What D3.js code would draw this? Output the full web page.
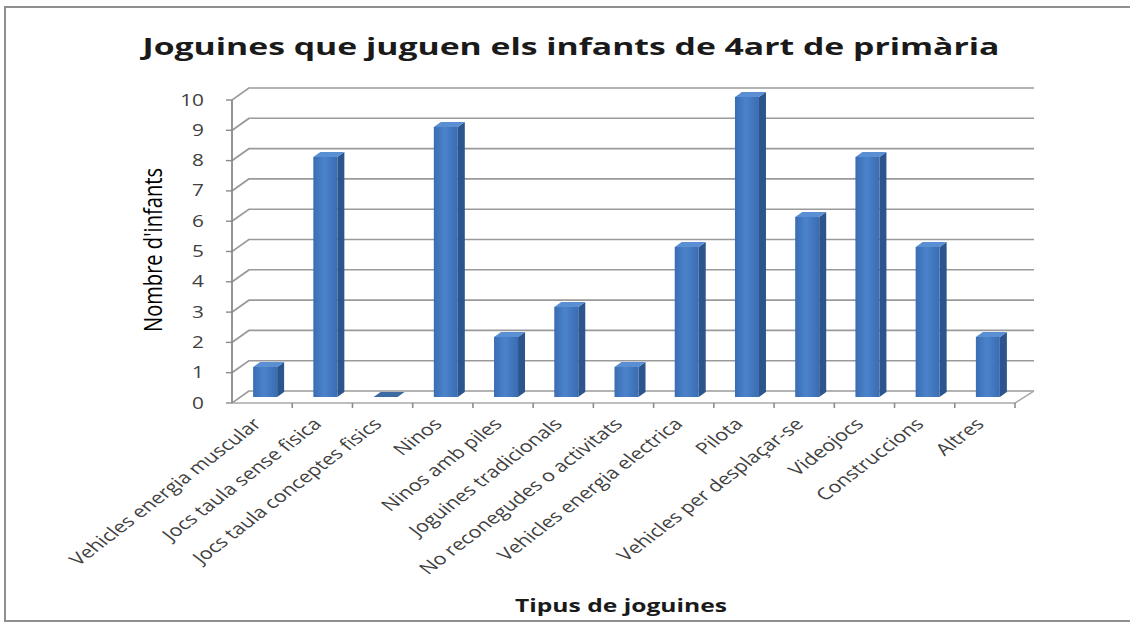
<!DOCTYPE html>
<html>
<head>
<meta charset="utf-8">
<script src="https://cdn.jsdelivr.net/npm/d3@7"></script>
<style>
  html, body { margin: 0; padding: 0; background: #fff; }
  svg { display: block; }
</style>
</head>
<body>
<svg id="chart" width="1130" height="624"></svg>
<script>
// ---- data ----
const categories = [
  "Vehicles energia muscular",
  "Jocs taula sense fisica",
  "Jocs taula conceptes fisics",
  "Ninos",
  "Ninos amb piles",
  "Joguines tradicionals",
  "No reconegudes o activitats",
  "Vehicles energia electrica",
  "Pilota",
  "Vehicles per desplaçar-se",
  "Videojocs",
  "Construccions",
  "Altres"
];
const values = [1, 8, 0, 9, 2, 3, 1, 5, 10, 6, 8, 5, 2];
const yTicks = [0, 1, 2, 3, 4, 5, 6, 7, 8, 9, 10];
const titleText = "Joguines que juguen els infants de 4art de primària";
const xTitleText = "Tipus de joguines";
const yTitleText = "Nombre d'infants";

// ---- layout (the reference is horizontally stretched; draw in a scaled group) ----
const sx = 1.3;
const svg = d3.select("#chart");

// frame
svg.append("rect").attr("x", 5).attr("y", 7).attr("width", 1135).attr("height", 614)
  .attr("fill", "#fff").attr("stroke", "#8f8f8f").attr("stroke-width", 2);

const g = svg.append("g").attr("transform", `scale(${sx},1)`);
const X = px => px / sx;  // final pixel x -> inner x

const front0 = 232, front1 = 1015;
const depthX = 17, depthY = -12;
const backRight = 1034;

const x = d3.scaleBand().domain(categories).range([X(front0), X(front1)]).paddingInner(0).paddingOuter(0);
const yFront = d3.scaleLinear().domain([0, 10]).range([403, 100]);
const yBar = d3.scaleLinear().domain([0, 10]).range([397, 97]);

const gridColor = "#9a9a9a";

// back wall + side wall gridlines
g.append("g").selectAll("path").data(yTicks).join("path")
  .attr("d", v => {
    const yf = yFront(v), yb = yf + depthY;
    return `M${X(front0)},${yf} L${X(front0 + depthX)},${yb} L${X(backRight)},${yb}`;
  })
  .attr("fill", "none").attr("stroke", gridColor).attr("stroke-width", 1.6);

// floor edges
const y0 = yFront(0);
g.append("path")
  .attr("d", `M${X(front0)},${y0} L${X(front1)},${y0} L${X(backRight)},${y0 + depthY}`)
  .attr("fill", "none").attr("stroke", "#a8a8a8").attr("stroke-width", 1.4);

// y axis line + ticks
g.append("line").attr("x1", X(front0)).attr("x2", X(front0))
  .attr("y1", yFront(10)).attr("y2", y0).attr("stroke", "#8a8a8a").attr("stroke-width", 1.4);
g.append("g").selectAll("line").data(yTicks).join("line")
  .attr("x1", X(front0 - 6)).attr("x2", X(front0))
  .attr("y1", v => yFront(v)).attr("y2", v => yFront(v))
  .attr("stroke", "#8a8a8a").attr("stroke-width", 1.4);

// y tick labels
g.append("g").selectAll("text").data(yTicks).join("text")
  .attr("x", X(204)).attr("y", v => yFront(v)).attr("dy", "0.35em")
  .attr("text-anchor", "end")
  .attr("font-family", "Open Sans, sans-serif").attr("font-size", 16)
  .attr("fill", "#404040").text(d => d);

// x ticks at category boundaries
const bounds = categories.map(c => x(c) + x.bandwidth());
g.append("g").selectAll("line").data(bounds).join("line")
  .attr("x1", d => d).attr("x2", d => d).attr("y1", y0).attr("y2", y0 + 5)
  .attr("stroke", "#8a8a8a").attr("stroke-width", 1.2);

// gradient for bar front
const defs = svg.append("defs");
const grad = defs.append("linearGradient").attr("id", "frontGrad")
  .attr("x1", "0%").attr("x2", "100%").attr("y1", "0%").attr("y2", "0%");
grad.append("stop").attr("offset", "0%").attr("stop-color", "#3a6db3");
grad.append("stop").attr("offset", "45%").attr("stop-color", "#4b83cb");
grad.append("stop").attr("offset", "100%").attr("stop-color", "#3a6cb1");

// bars (3D)
const barW = X(24), sideW = X(7), topH = 5;
const bars = g.append("g").selectAll("g").data(categories.map((c, i) => ({ c, v: values[i] }))).join("g");
bars.each(function (d) {
  const gg = d3.select(this);
  const cx = x(d.c) + x.bandwidth() / 2 + X(3);
  const xl = cx - barW / 2, xr = cx + barW / 2;
  const yt = yBar(d.v), yb = yBar(0);
  if (d.v > 0) {
    gg.append("path")
      .attr("d", `M${xr},${yt} L${xr + sideW},${yt - topH} L${xr + sideW},${yb - topH} L${xr},${yb} Z`)
      .attr("fill", "#2b558c");
    gg.append("rect").attr("x", xl).attr("y", yt).attr("width", barW).attr("height", yb - yt)
      .attr("fill", "url(#frontGrad)");
  }
  gg.append("path")
    .attr("d", `M${xl},${yt} L${xr},${yt} L${xr + sideW},${yt - topH} L${xl + sideW},${yt - topH} Z`)
    .attr("fill", d.v > 0 ? "#5a8fd3" : "#3e6aa3");
});

// x tick labels (rotated)
g.append("g").selectAll("text").data(categories).join("text")
  .attr("transform", c => `translate(${x(c) + x.bandwidth() / 2 - X(5)},${421}) rotate(-45)`)
  .attr("text-anchor", "end").attr("dy", "0.35em")
  .attr("font-family", "Open Sans, sans-serif").attr("font-size", 16.5)
  .attr("fill", "#404040").text(d => d);

// title
g.append("text").attr("x", X(571)).attr("y", 55).attr("text-anchor", "middle")
  .attr("font-family", "Open Sans, sans-serif").attr("font-weight", "bold").attr("font-size", 23)
  .attr("textLength", X(857)).attr("lengthAdjust", "spacingAndGlyphs")
  .attr("fill", "#1a1a1a").text(titleText);

// x axis title
g.append("text").attr("x", X(621)).attr("y", 612).attr("text-anchor", "middle")
  .attr("font-family", "Open Sans, sans-serif").attr("font-weight", "bold").attr("font-size", 18)
  .attr("textLength", X(212)).attr("lengthAdjust", "spacingAndGlyphs")
  .attr("fill", "#1a1a1a").text(xTitleText);

// y axis title
g.append("text").attr("transform", `translate(${X(162)},${250}) rotate(-90)`)
  .attr("text-anchor", "middle")
  .attr("font-family", "Open Sans, sans-serif").attr("font-size", 19)
  .attr("textLength", 164).attr("lengthAdjust", "spacingAndGlyphs")
  .attr("fill", "#000").text(yTitleText);
</script>
</body>
</html>
